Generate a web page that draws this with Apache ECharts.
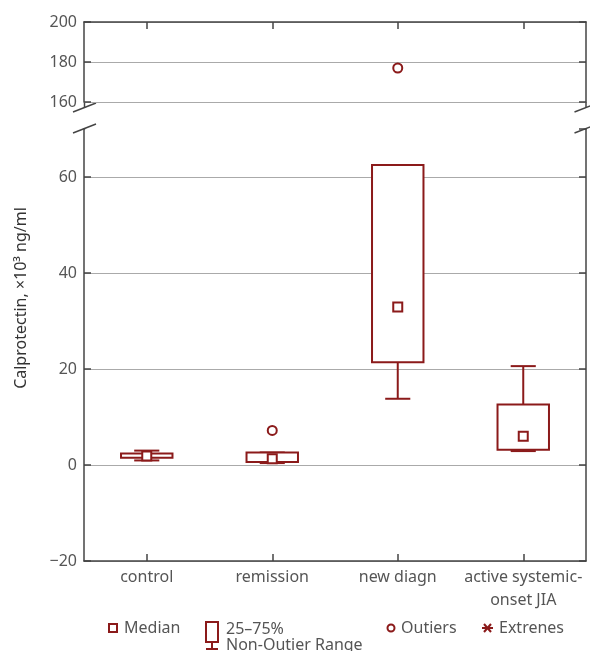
<!DOCTYPE html>
<html>
<head>
<meta charset="utf-8">
<script src="https://cdn.jsdelivr.net/npm/echarts@6/dist/echarts.min.js"></script>
<style>
  html, body { margin: 0; padding: 0; background: #fff; }
  #chart { width: 590px; height: 651px; }
</style>
</head>
<body>
<div id="chart"></div>
<script>
const categories = ['control', 'remission', 'new diagn', 'active systemic-\nonset JIA'];
const whiskerLow = [0.95, 0.4, 13.8, 2.9];
const boxLow = [1.5, 0.6, 21.4, 3.2];
const medians = [1.9, 1.3, 32.9, 6.0];
const boxHigh = [2.4, 2.6, 62.5, 12.6];
const whiskerHigh = [3.0, 2.6, 62.5, 20.6];
// [category index, value]
const outliers = [[1, 7.2], [2, 177]];

const RED = '#8b1a1a';
const AXIS = '#444';
const TEXT = '#555';
const FONT = 'Noto Sans';

const myChart = echarts.init(document.getElementById('chart'));

function boxItem(params, api) {
    const i = api.value(0);
    const band = api.size([1, 0])[0];
    const x = api.coord([i, 0])[0];
    const bw = band * 0.41;
    const cw = band * 0.2;
    const yWl = api.coord([i, api.value(1)])[1];
    const yBl = api.coord([i, api.value(2)])[1];
    const yBh = api.coord([i, api.value(3)])[1];
    const yWh = api.coord([i, api.value(4)])[1];
    const ls = { stroke: RED, lineWidth: 2 };
    return {
        type: 'group',
        children: [
            { type: 'line', shape: { x1: x, y1: yBl, x2: x, y2: yWl }, style: ls },
            { type: 'line', shape: { x1: x, y1: yBh, x2: x, y2: yWh }, style: ls },
            { type: 'line', shape: { x1: x - cw / 2, y1: yWl, x2: x + cw / 2, y2: yWl }, style: ls },
            { type: 'line', shape: { x1: x - cw / 2, y1: yWh, x2: x + cw / 2, y2: yWh }, style: ls },
            { type: 'rect', shape: { x: x - bw / 2, y: yBh, width: bw, height: yBl - yBh },
              style: { fill: '#fff', stroke: RED, lineWidth: 2 } }
        ]
    };
}

function valueAxis(grid, pos, min, max, showLabels) {
    return {
        type: 'value', gridIndex: grid, position: pos, min: min, max: max, interval: 20,
        axisLine: { show: true, onZero: false, lineStyle: { color: AXIS, width: 1.5 } },
        axisTick: { show: true, inside: true, length: 7, lineStyle: { color: AXIS, width: 1.5 } },
        axisLabel: { show: showLabels, color: TEXT, fontFamily: FONT, fontSize: 16, margin: 7,
                     showMaxLabel: max === 200, formatter: v => (v < 0 ? '\u2212' + (-v) : v) },
        splitLine: { show: showLabels, showMaxLine: max === 200, lineStyle: { color: '#aaa', width: 1 } }
    };
}

const breakLines = [];
[84.5, 586].forEach(x => {
    breakLines.push({ type: 'line', shape: { x1: x, y1: 102, x2: x, y2: 107.5 }, style: { stroke: AXIS, lineWidth: 1.5 } });
    breakLines.push({ type: 'line', shape: { x1: x - 11.5, y1: 112, x2: x + 11.5, y2: 103 }, style: { stroke: AXIS, lineWidth: 1.5 } });
    breakLines.push({ type: 'line', shape: { x1: x - 11.5, y1: 133, x2: x + 11.5, y2: 124 }, style: { stroke: AXIS, lineWidth: 1.5 } });
    breakLines.push({ type: 'line', shape: { x1: x, y1: 128.5, x2: x, y2: 129.5 }, style: { stroke: AXIS, lineWidth: 1.5 } });
});

const legendText = { fill: TEXT, fontFamily: FONT, fontSize: 16, verticalAlign: 'middle' };
const legend = [
    { type: 'rect', shape: { x: 109, y: 624, width: 8, height: 8 }, style: { fill: '#fff', stroke: RED, lineWidth: 2 } },
    { type: 'text', x: 124, y: 628, style: Object.assign({ text: 'Median' }, legendText) },
    { type: 'rect', shape: { x: 206, y: 622, width: 12, height: 20 }, style: { fill: '#fff', stroke: RED, lineWidth: 2 } },
    { type: 'line', shape: { x1: 212, y1: 642, x2: 212, y2: 649 }, style: { stroke: RED, lineWidth: 2 } },
    { type: 'line', shape: { x1: 206, y1: 649, x2: 218, y2: 649 }, style: { stroke: RED, lineWidth: 2 } },
    { type: 'text', x: 226, y: 629, style: Object.assign({ text: '25\u201375%' }, legendText) },
    { type: 'text', x: 226, y: 645, style: Object.assign({ text: 'Non-Outier Range' }, legendText) },
    { type: 'circle', shape: { cx: 391, cy: 628, r: 3.5 }, style: { fill: '#fff', stroke: RED, lineWidth: 2 } },
    { type: 'text', x: 401, y: 628, style: Object.assign({ text: 'Outiers' }, legendText) },
    { type: 'line', shape: { x1: 482, y1: 628, x2: 493, y2: 628 }, style: { stroke: RED, lineWidth: 2 } },
    { type: 'line', shape: { x1: 484, y1: 624, x2: 491, y2: 632 }, style: { stroke: RED, lineWidth: 2 } },
    { type: 'line', shape: { x1: 484, y1: 632, x2: 491, y2: 624 }, style: { stroke: RED, lineWidth: 2 } },
    { type: 'text', x: 499, y: 628, style: Object.assign({ text: 'Extrenes' }, legendText) },
    { type: 'text', x: 21, y: 298, rotation: Math.PI / 2,
      style: { text: 'Calprotectin, \u00d710\u00b3 ng/ml', fill: '#333', fontFamily: FONT, fontSize: 16,
               align: 'center', verticalAlign: 'middle' } }
];

const option = {
    animation: false,
    grid: [
        { left: 84, right: 4, top: 22, height: 80 },
        { left: 84, right: 4, top: 129, bottom: 90 }
    ],
    xAxis: [
        { type: 'category', gridIndex: 0, position: 'top', data: categories,
          axisLine: { show: true, onZero: false, lineStyle: { color: AXIS, width: 1.5 } },
          axisTick: { show: true, inside: true, alignWithLabel: true, length: 7, lineStyle: { color: AXIS, width: 1.5 } },
          axisLabel: { show: false } },
        { type: 'category', gridIndex: 1, position: 'bottom', data: categories,
          axisLine: { show: true, onZero: false, lineStyle: { color: AXIS, width: 1.5 } },
          axisTick: { show: true, inside: true, alignWithLabel: true, length: 7, lineStyle: { color: AXIS, width: 1.5 } },
          axisLabel: { color: TEXT, fontFamily: FONT, fontSize: 16, margin: 5, lineHeight: 23, interval: 0 } }
    ],
    yAxis: [
        valueAxis(0, 'left', 160, 200, true),
        valueAxis(1, 'left', -20, 70, true),
        valueAxis(0, 'right', 160, 200, false),
        valueAxis(1, 'right', -20, 70, false)
    ],
    graphic: breakLines.concat(legend),
    series: [
        {
            type: 'custom', xAxisIndex: 1, yAxisIndex: 1, z: 3,
            renderItem: boxItem,
            data: categories.map((c, i) => [i, whiskerLow[i], boxLow[i], boxHigh[i], whiskerHigh[i]])
        },
        {
            type: 'scatter', xAxisIndex: 1, yAxisIndex: 1, z: 4,
            symbol: 'rect', symbolSize: 9,
            itemStyle: { color: '#fff', borderColor: RED, borderWidth: 2, opacity: 1 },
            data: medians.map((v, i) => [i, v])
        },
        {
            type: 'scatter', xAxisIndex: 1, yAxisIndex: 1, z: 4,
            symbol: 'circle', symbolSize: 9,
            itemStyle: { color: '#fff', borderColor: RED, borderWidth: 2, opacity: 1 },
            data: outliers.filter(o => o[1] < 160)
        },
        {
            type: 'scatter', xAxisIndex: 0, yAxisIndex: 0, z: 4,
            symbol: 'circle', symbolSize: 9,
            itemStyle: { color: '#fff', borderColor: RED, borderWidth: 2, opacity: 1 },
            data: outliers.filter(o => o[1] >= 160)
        }
    ]
};

myChart.setOption(option);
</script>
</body>
</html>
